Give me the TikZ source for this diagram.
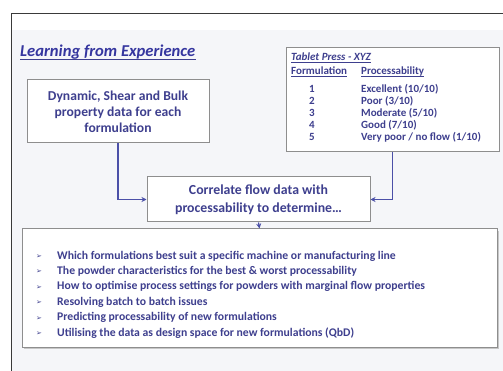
\documentclass[tikz,border=0pt]{standalone}
\usepackage{fontspec}
\setmainfont{Carlito}
\newfontfamily\symfont{DejaVu Sans}
\usetikzlibrary{arrows.meta}
\definecolor{ink}{HTML}{3E3F8E}
\definecolor{wire}{HTML}{4B50A8}
\definecolor{edge}{HTML}{8E8E8E}
\definecolor{panel}{HTML}{F5F6F9}
\definecolor{frameline}{HTML}{3A3A3A}
\newcommand{\arrowbullet}{\makebox[21pt][l]{\raisebox{0.5pt}{\symfont\fontsize{7}{7}\selectfont ➢}}}
\begin{document}
\begin{tikzpicture}[x=1pt,y=-1pt,
  box/.style={draw=edge, line width=1pt, fill=white, inner sep=0pt},
  boxtext/.style={text=ink, font=\bfseries\fontsize{13.6}{16}\selectfont, align=center, inner sep=0pt},
  tabtext/.style={text=ink, font=\bfseries\fontsize{11}{12}\selectfont, inner sep=0pt},
  itemtext/.style={text=ink, font=\bfseries\fontsize{11.7}{13}\selectfont, inner sep=0pt, anchor=base west},
  flow/.style={draw=wire, line width=1.2pt, -{Stealth[length=5pt,width=5pt]}},
  rule/.style={draw=ink, line width=0.6pt}]
\useasboundingbox (0,0) rectangle (503,371);
% page and slide panel
\fill[white] (0,0) rectangle (503,371);
\fill[panel] (11,30) rectangle (503,371);
\draw[frameline, line width=1pt] (11,371) -- (11,14) -- (503,14);

% heading
\node[text=ink!85!blue, font=\bfseries\itshape\fontsize{16.6}{18}\selectfont, inner sep=0pt, anchor=base west] (title) at (20,57) {Learning from Experience};
\draw[rule, line width=0.9pt] ([yshift=-2.2pt]title.base west) -- ([yshift=-2.2pt]title.base east);

% input boxes
\node[box, minimum width=182pt, minimum height=63pt] (data) at (118,111.5) {};
\node[boxtext] (datatext) at (data.center) {Dynamic, Shear and Bulk\\property data for each\\formulation};

\node[box, minimum width=213pt, minimum height=104pt] (press) at (392.5,100) {};
\node[tabtext, font=\bfseries\itshape\fontsize{11}{12}\selectfont, anchor=base west] (presstitle) at (291,61) {Tablet Press - XYZ};
\draw[rule] ([yshift=-1.6pt]presstitle.base west) -- ([yshift=-1.6pt]presstitle.base east);
\node[tabtext, anchor=base west] (colA) at (291,75) {Formulation};
\draw[rule] ([yshift=-1.6pt]colA.base west) -- ([yshift=-1.6pt]colA.base east);
\node[tabtext, anchor=base west] (colB) at (361,75) {Processability};
\draw[rule] ([yshift=-1.6pt]colB.base west) -- ([yshift=-1.6pt]colB.base east);
\foreach \n/\txt/\yy in {1/Excellent (10\slash 10)/93, 2/Poor (3\slash 10)/104.8, 3/Moderate (5\slash 10)/116.6, 4/Good (7\slash 10)/128.4, 5/Very poor \slash\ no flow (1\slash 10)/140.2}{
  \node[tabtext, anchor=base] (num\n) at (312,\yy) {\n};
  \node[tabtext, anchor=base west] (rate\n) at (361,\yy) {\txt};
}

% correlation step
\node[box, minimum width=223pt, minimum height=45pt] (corr) at (258.5,199.5) {};
\node[boxtext, font=\bfseries\fontsize{13.8}{18}\selectfont] (corrtext) at (corr.center) {Correlate flow data with\\processability to determine\dots};

% outcomes
\fill[black!22] (24,231) rectangle (499,349);
\node[box, minimum width=475pt, minimum height=118pt] (uses) at (259.5,288) {};
\foreach \k/\txt/\yy in {
  1/Which formulations best suit a specific machine or manufacturing line/259,
  2/The powder characteristics for the best \& worst processability/274.4,
  3/How to optimise process settings for powders with marginal flow properties/289.8,
  4/Resolving batch to batch issues/305.2,
  5/Predicting processability of new formulations/320.6,
  6/Utilising the data as design space for new formulations (QbD)/336}{
  \node[itemtext] (use\k) at (36,\yy) {\arrowbullet\txt};
}

% connectors
\draw[flow] (data.south) |- (corr.west);
\draw[flow] (press.south) |- (corr.east);
\draw[flow] (corr.south) -- (uses.north);
\end{tikzpicture}
\end{document}
